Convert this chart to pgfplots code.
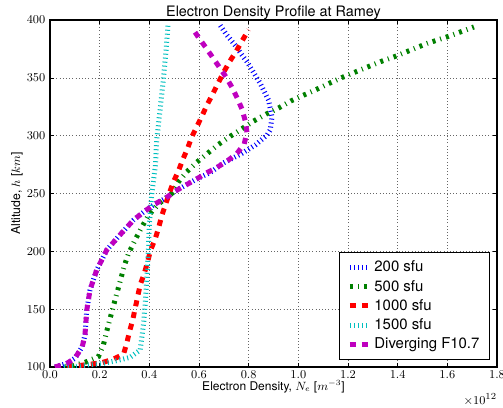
\documentclass[border=0pt]{standalone}
\usepackage[no-math]{fontspec}
\setmainfont{TeX Gyre Heros}
\usepackage{pgfplots}
\pgfplotsset{compat=1.18}
\definecolor{mblue}{rgb}{0,0,1}
\definecolor{mgreen}{rgb}{0,0.5,0}
\definecolor{mred}{rgb}{1,0,0}
\definecolor{mcyan}{rgb}{0,0.75,0.75}
\definecolor{mmag}{rgb}{0.75,0,0.75}
\begin{document}
\begin{tikzpicture}
\begin{axis}[
  name=ax,
  scale only axis,
  width=335.25pt, height=260.25pt,
  xmin=0, xmax=1.8, ymin=100, ymax=400,
  xtick={0,0.2,...,1.8}, ytick={100,150,...,400},
  xticklabel style={/pgf/number format/fixed, /pgf/number format/fixed zerofill, /pgf/number format/precision=1, yshift=0.6pt},
  yticklabel style={/pgf/number format/fixed, /pgf/number format/precision=0},
  tick label style={font=\fontsize{9.5}{11}\selectfont},
  tick align=inside,
  major tick length=3pt,
  tick style={black, line width=0.5pt},
  axis line style={black, line width=0.8pt},
  grid=major,
  grid style={dotted, black!60, line width=0.5pt},
  legend cell align=left,
  legend image code/.code={\draw[#1] (0pt,0pt) -- (15pt,0pt);},
  legend style={at={(0.984,0.02)}, anchor=south east, draw=black, line width=0.6pt,
    font=\fontsize{11.2}{12}\selectfont, inner xsep=6pt, inner ysep=5pt, row sep=1.8pt,
    nodes={inner sep=1.5pt}},
]
\addplot[mblue, line width=3.75pt, dash pattern=on 0.75pt off 2.25pt] coordinates {
(0.02,100) (0.067,103) (0.10,107.5) (0.13,117.6) (0.141,128) (0.148,149) (0.161,166.5) (0.188,183.8) (0.228,201) (0.275,212.6) (0.336,227) (0.383,235) (0.423,241) (0.464,245.7) (0.504,252) (0.547,257.3) (0.59,262.5) (0.645,268) (0.70,276.6) (0.773,284.7) (0.827,292) (0.874,300.5) (0.887,305) (0.894,316) (0.88,330.8) (0.847,345) (0.793,364) (0.773,369.7) (0.746,378) (0.712,387) (0.685,395.5)
};
\addlegendentry{200 sfu}
\addplot[mgreen, line width=3.75pt, dash pattern=on 2.25pt off 3.75pt on 0.75pt off 3.75pt] coordinates {
(0.03,100) (0.094,101) (0.141,104) (0.195,109) (0.215,119) (0.228,130.5) (0.242,142) (0.262,158) (0.282,173.7) (0.30,188) (0.316,198) (0.343,210) (0.37,221) (0.396,231) (0.44,241.5) (0.49,250) (0.517,260) (0.551,268.8) (0.591,277) (0.636,285) (0.679,292.5) (0.726,299.5) (0.773,306) (0.82,312.6) (0.871,318.7) (0.921,324) (0.97,330) (1.021,335) (1.073,340) (1.122,345) (1.176,350.3) (1.331,364) (1.384,368) (1.519,379.8) (1.60,385.5) (1.707,394)
};
\addlegendentry{500 sfu}
\addplot[mred, line width=3.75pt, dash pattern=on 4.5pt off 4.5pt] coordinates {
(0.02,100) (0.107,101) (0.159,102.3) (0.208,103.7) (0.253,106.6) (0.296,111) (0.309,120.5) (0.32,130.5) (0.333,140.6) (0.343,150.7) (0.353,160.8) (0.363,171) (0.38,181) (0.393,191) (0.405,201) (0.424,211) (0.437,220) (0.45,230.8) (0.466,241) (0.481,250.6) (0.497,260) (0.517,269.4) (0.535,279.5) (0.554,289) (0.571,299) (0.591,307.7) (0.612,317) (0.632,326.4) (0.655,336) (0.676,345) (0.699,354.7) (0.723,364) (0.75,373) (0.773,381.8) (0.80,391.5)
};
\addlegendentry{1000 sfu}
\addplot[mcyan, line width=3.75pt, dash pattern=on 0.75pt off 2.25pt] coordinates {
(0.04,100) (0.107,100.6) (0.161,102) (0.215,103.2) (0.269,105.5) (0.323,108.4) (0.363,114.7) (0.37,126) (0.378,140) (0.385,160) (0.392,185) (0.397,205) (0.40,224) (0.41,250) (0.424,273) (0.43,297) (0.444,323.6) (0.457,350) (0.468,375) (0.475,395.5)
};
\addlegendentry{1500 sfu}
\addplot[mmag, line width=3.75pt, dash pattern=on 4.5pt off 4.5pt] coordinates {
(0.02,100) (0.067,103) (0.10,107.5) (0.13,117.6) (0.141,128) (0.148,149) (0.161,166.5) (0.188,183.8) (0.228,201) (0.275,212.6) (0.336,227) (0.383,235) (0.423,241) (0.464,245.7) (0.504,252) (0.547,257.3) (0.59,262.5) (0.632,268) (0.672,272.5) (0.715,278.3) (0.753,284.7) (0.782,292.7) (0.793,303) (0.786,313) (0.773,323) (0.755,332) (0.733,341.7) (0.708,351) (0.681,359.5) (0.655,367.6) (0.628,376) (0.598,385) (0.571,393.5)
};
\addlegendentry{Diverging F10.7}
\end{axis}
\node[anchor=base, font=\fontsize{10.8}{12}\selectfont, inner sep=0pt] at ([yshift=2.6pt]ax.north) {Electron Density Profile at Ramey};
\node[anchor=base, font=\fontsize{9}{11}\selectfont, inner sep=0pt] at ([yshift=-17.4pt]ax.south) {Electron Density, $N_e$ [$m^{-3}$]};
\node[anchor=center, rotate=90, font=\fontsize{9.2}{11}\selectfont, inner sep=0pt] at ([xshift=-24.75pt]ax.west) {Altitude, $h$ [$km$]};
\node[anchor=base east, font=\fontsize{9.5}{11}\selectfont, inner sep=0pt] at ([yshift=-28.3pt]ax.south east) {$\times10^{12}$};
\pgfresetboundingbox
\path ([xshift=-37.5pt,yshift=-30pt]ax.south west) rectangle ([xshift=4.5pt,yshift=15pt]ax.north east);
\end{tikzpicture}
\end{document}
